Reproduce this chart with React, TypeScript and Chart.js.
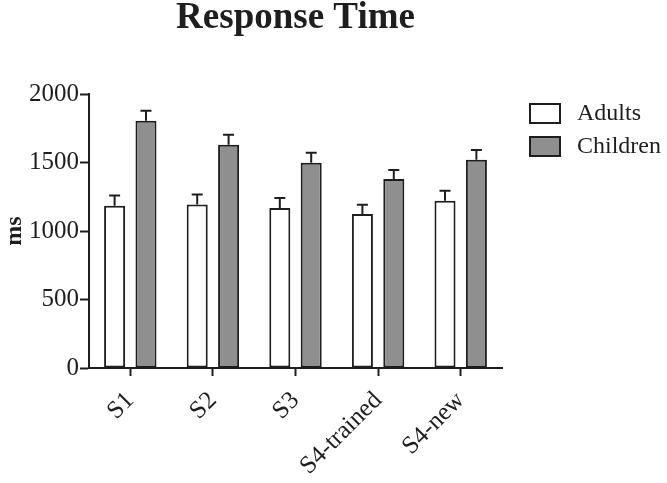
import React, { useEffect, useRef } from "react";
import { Chart, registerables } from "chart.js";

Chart.register(...registerables);

const categories = ["S1", "S2", "S3", "S4-trained", "S4-new"];
const adultsValues = [1185, 1194, 1168, 1124, 1221];
const adultsErrors = [75, 73, 73, 68, 73];
const childrenValues = [1805, 1630, 1499, 1380, 1520];
const childrenErrors = [73, 73, 73, 65, 72];
const yTicks = [0, 500, 1000, 1500, 2000];
const titleText = "Response Time";
const yTitle = "ms";

const FONT = "'Liberation Serif', 'Times New Roman', serif";
const INK = "#1e1e1e";

const errorBarPlugin = {
  id: "errorBars",
  afterDatasetsDraw(chart: any) {
    const ctx = chart.ctx;
    const yScale = chart.scales.y;
    ctx.save();
    ctx.strokeStyle = INK;
    ctx.lineWidth = 2;
    chart.data.datasets.forEach((ds: any, i: number) => {
      const meta = chart.getDatasetMeta(i);
      meta.data.forEach((el: any, j: number) => {
        const v = ds.data[j];
        const e = ds.errors[j];
        const yTop = yScale.getPixelForValue(v + e);
        ctx.beginPath();
        ctx.moveTo(el.x, el.y);
        ctx.lineTo(el.x, yTop);
        ctx.moveTo(el.x - 5.5, yTop);
        ctx.lineTo(el.x + 5.5, yTop);
        ctx.stroke();
      });
    });
    ctx.restore();
  },
};

const decorPlugin = {
  id: "decor",
  afterDraw(chart: any) {
    const ctx = chart.ctx;
    const area = chart.chartArea;
    ctx.save();
    // title
    ctx.fillStyle = INK;
    ctx.font = `bold 37px ${FONT}`;
    ctx.textAlign = "center";
    ctx.textBaseline = "alphabetic";
    ctx.fillText(titleText, (area.left + area.right) / 2, 28);
    // legend
    const lx = 530;
    const ly = 104;
    chart.data.datasets.forEach((ds: any, i: number) => {
      const y = ly + i * 33;
      ctx.fillStyle = ds.backgroundColor;
      ctx.fillRect(lx, y, 30, 19);
      ctx.strokeStyle = INK;
      ctx.lineWidth = 2;
      ctx.strokeRect(lx, y, 30, 19);
      ctx.fillStyle = INK;
      ctx.font = `24px ${FONT}`;
      ctx.textAlign = "left";
      ctx.textBaseline = "middle";
      ctx.fillText(ds.label, 577, y + 10);
    });
    ctx.restore();
  },
};

export default function App() {
  const ref = useRef<HTMLCanvasElement | null>(null);
  useEffect(() => {
    if (!ref.current) return;
    const chart = new Chart(ref.current, {
      type: "bar",
      data: {
        labels: categories,
        datasets: [
          {
            label: "Adults",
            data: adultsValues,
            errors: adultsErrors,
            backgroundColor: "#ffffff",
            borderColor: INK,
            borderWidth: 2,
            borderSkipped: false,
          } as any,
          {
            label: "Children",
            data: childrenValues,
            errors: childrenErrors,
            backgroundColor: "#8f8f8f",
            borderColor: INK,
            borderWidth: 2,
            borderSkipped: false,
          } as any,
        ],
      },
      options: {
        animation: false,
        responsive: false,
        layout: { padding: { top: 94, right: 165, left: 0, bottom: 0 } },
        datasets: { bar: { categoryPercentage: 0.76, barPercentage: 0.67 } },
        plugins: {
          legend: { display: false },
          title: { display: false },
          tooltip: { enabled: false },
        },
        scales: {
          x: {
            afterFit: (s: any) => {
              s.height = 115;
            },
            border: { display: true, color: INK, width: 2 },
            grid: {
              offset: false,
              drawOnChartArea: false,
              drawTicks: true,
              tickLength: 8,
              tickWidth: 2,
              tickColor: INK,
            },
            ticks: {
              color: INK,
              font: { family: FONT, size: 25 },
              minRotation: 45,
              maxRotation: 45,
              padding: 10,
            },
          },
          y: {
            min: 0,
            max: 2000,
            afterFit: (s: any) => {
              s.width = 89;
            },
            afterBuildTicks: (s: any) => {
              s.ticks = yTicks.map((v) => ({ value: v }));
            },
            border: { display: true, color: INK, width: 2 },
            grid: {
              drawOnChartArea: false,
              drawTicks: true,
              tickLength: 9,
              tickWidth: 2,
              tickColor: INK,
            },
            ticks: {
              color: INK,
              font: { family: FONT, size: 25 },
              padding: 1,
              callback: (v: any) => String(v),
            },
            title: {
              display: true,
              text: yTitle,
              color: INK,
              font: { family: FONT, size: 24, weight: "bold" },
              padding: { top: 0, bottom: 0 },
            },
          },
        },
      },
      plugins: [errorBarPlugin, decorPlugin],
    } as any);
    return () => chart.destroy();
  }, []);
  return (
    <div
      style={{
        position: "fixed",
        left: 0,
        top: 0,
        width: 667,
        height: 483,
        background: "#ffffff",
      }}
    >
      <canvas ref={ref} width={667} height={483} style={{ display: "block" }} />
    </div>
  );
}
